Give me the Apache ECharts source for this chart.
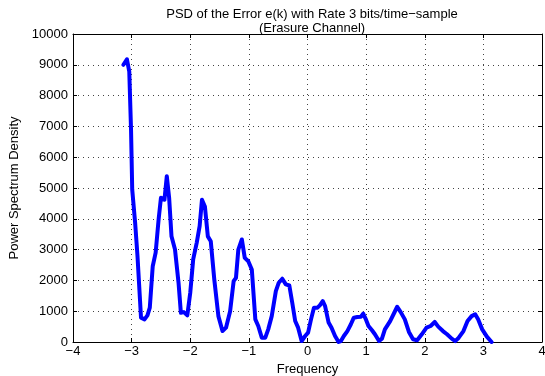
<!DOCTYPE html>
<html>
<head>
<meta charset="utf-8">
<script src="https://cdn.jsdelivr.net/npm/echarts@6/dist/echarts.min.js"></script>
<style>html,body{margin:0;padding:0;background:#fff;}#c{width:545px;height:376px;}</style>
</head>
<body>
<div id="c"></div>
<script>
var titleLines = ['PSD of the Error e(k) with Rate 3 bits/time\u2212sample', '(Erasure Channel)'];
var xLabel = 'Frequency';
var yLabel = 'Power Spectrum Density';
var freq = [-3.14,-3.08,-3.04,-3.01,-2.99,-2.94,-2.90,-2.84,-2.78,-2.73,-2.69,-2.64,-2.59,-2.54,-2.50,-2.44,-2.40,-2.36,-2.32,-2.26,-2.20,-2.16,-2.11,-2.05,-2.00,-1.95,-1.89,-1.84,-1.80,-1.75,-1.70,-1.65,-1.59,-1.52,-1.45,-1.39,-1.32,-1.26,-1.22,-1.18,-1.12,-1.07,-1.01,-0.95,-0.89,-0.84,-0.78,-0.72,-0.67,-0.61,-0.54,-0.49,-0.43,-0.37,-0.31,-0.26,-0.21,-0.16,-0.10,-0.04,0.01,0.06,0.11,0.17,0.21,0.26,0.30,0.36,0.41,0.47,0.53,0.57,0.62,0.68,0.74,0.79,0.85,0.91,0.95,0.99,1.04,1.10,1.15,1.22,1.27,1.32,1.41,1.48,1.53,1.59,1.66,1.73,1.80,1.87,1.95,2.03,2.10,2.17,2.23,2.31,2.38,2.46,2.52,2.58,2.66,2.73,2.80,2.86,2.91,2.98,3.06,3.14];
var psd = [9000,9180,8780,6890,4950,3870,2790,790,735,865,1115,2460,2900,3975,4680,4620,5380,4680,3430,3000,1925,950,970,865,1600,2680,3220,3760,4620,4400,3430,3270,2030,840,355,465,1000,1975,2085,3000,3330,2730,2620,2355,735,520,140,140,410,840,1650,1925,2055,1870,1835,1275,680,465,30,195,305,735,1115,1115,1190,1330,1165,630,465,195,0,30,195,355,575,790,810,820,920,760,520,380,250,30,110,410,680,950,1145,970,735,325,90,55,250,465,520,650,500,355,250,110,30,140,355,680,840,900,735,410,175,0];
var xTicks = {min:-4, max:4, step:1};
var yTicks = {min:0, max:10000, step:1000};

var font = 'Liberation Sans, Arial, Helvetica, sans-serif';
var fs = 13;
var data = freq.map(function(f,i){return [f, psd[i]];});
var chart = echarts.init(document.getElementById('c'), null, {renderer:'canvas'});
var axisLineStyle = {color:'#000', width:1};
var gridDots = {show:true, lineStyle:{color:'#444', type:[1,4], width:1}};
function fmt(v){ return String(v).replace('-', '\u2212'); }
chart.setOption({
  animation:false,
  backgroundColor:'#fff',
  title:{
    text: titleLines.join('\n'),
    left: 307, top: 2, textAlign:'center',
    textStyle:{fontFamily:font, fontSize:fs, fontWeight:'normal', color:'#000', lineHeight:14}
  },
  grid:{left:73, right:3, top:34, bottom:34, containLabel:false, outerBoundsMode:'none'},
  xAxis:[{
    type:'value', min:xTicks.min, max:xTicks.max, interval:xTicks.step,
    name:xLabel, nameLocation:'middle', nameGap:17,
    nameTextStyle:{fontFamily:font, fontSize:fs, color:'#000'},
    axisLine:{show:true, onZero:false, lineStyle:axisLineStyle},
    axisTick:{show:true, inside:true, length:4, lineStyle:axisLineStyle},
    axisLabel:{fontFamily:font, fontSize:fs, color:'#000', margin:3, formatter:fmt},
    splitLine:gridDots
  },{
    type:'value', position:'top', min:xTicks.min, max:xTicks.max, interval:xTicks.step,
    axisLine:{show:true, onZero:false, lineStyle:axisLineStyle},
    axisTick:{show:true, inside:true, length:4, lineStyle:axisLineStyle},
    axisLabel:{show:false}, splitLine:{show:false}
  }],
  yAxis:[{
    type:'value', min:yTicks.min, max:yTicks.max, interval:yTicks.step,
    name:yLabel, nameLocation:'middle', nameGap:51, nameRotate:90,
    nameTextStyle:{fontFamily:font, fontSize:fs, color:'#000'},
    axisLine:{show:true, onZero:false, lineStyle:axisLineStyle},
    axisTick:{show:true, inside:true, length:4, lineStyle:axisLineStyle},
    axisLabel:{fontFamily:font, fontSize:fs, color:'#000', margin:5, formatter:fmt},
    splitLine:gridDots
  },{
    type:'value', position:'right', min:yTicks.min, max:yTicks.max, interval:yTicks.step,
    axisLine:{show:true, onZero:false, lineStyle:axisLineStyle},
    axisTick:{show:true, inside:true, length:4, lineStyle:axisLineStyle},
    axisLabel:{show:false}, splitLine:{show:false}
  }],
  series:[{
    type:'line', data:data, xAxisIndex:0, yAxisIndex:0,
    showSymbol:false, smooth:false,
    lineStyle:{color:'#0000ff', width:4, join:'round', cap:'round'},
    itemStyle:{color:'#0000ff'}
  }]
});
</script>
</body>
</html>
